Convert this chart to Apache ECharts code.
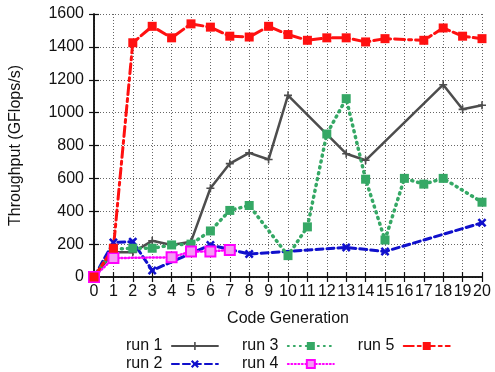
<!DOCTYPE html>
<html>
<head>
<meta charset="utf-8">
<script src="https://cdn.jsdelivr.net/npm/echarts@6/dist/echarts.min.js"></script>
<style>
  html, body { margin: 0; padding: 0; background: #fff; }
  #chart { width: 495px; height: 372px; }
</style>
</head>
<body>
<div id="chart"></div>
<script>
// Throughput per code generation for five runs (null = no measurement)
const generations = [0,1,2,3,4,5,6,7,8,9,10,11,12,13,14,15,16,17,18,19,20];
const run1 = [0,150,150,220,195,215,540,690,755,715,1105,null,null,750,710,null,null,null,1170,1020,1045];
const run2 = [0,210,215,40,null,null,195,null,140,null,null,null,null,180,null,155,null,null,null,null,330];
const run3 = [0,170,175,175,195,200,280,405,435,null,130,305,870,1085,595,225,600,565,600,null,455];
const run4 = [0,115,null,null,120,155,155,165,null,null,null,null,null,null,null,null,null,null,null,null,null];
const run5 = [0,175,1425,1525,1455,1540,1520,1465,1460,1525,1475,1440,1455,1455,1430,1450,null,1440,1515,1465,1450];
const yTicks = [0,200,400,600,800,1000,1200,1400,1600];

const FONT = 'Liberation Sans, Arial, Helvetica, sans-serif';

function pairs(vals) {
  const out = [];
  generations.forEach((g, i) => { if (vals[i] !== null) out.push([g, vals[i]]); });
  return out;
}

const crossPath = 'path://M0,2L2,0L5,3L8,0L10,2L7,5L10,8L8,10L5,7L2,10L0,8L3,5Z';
const plusPath = 'path://M4,0H6V4H10V6H6V10H4V6H0V4H4Z';

const series = [
  { name: 'run 1', vals: run1, color: '#4d4d4d', type: 'solid', width: 2.5, symbol: plusPath, size: 8, fill: '#4d4d4d' },
  { name: 'run 2', vals: run2, color: '#1010cc', type: [7, 4], width: 3, symbol: crossPath, size: 9, fill: '#1010cc' },
  { name: 'run 3', vals: run3, color: '#35a865', type: [1, 5], width: 3.5, symbol: 'rect', size: 9, fill: '#35a865' },
  { name: 'run 4', vals: run4, color: '#ff00ff', type: [1, 2.5], width: 2.5, symbol: 'rect', size: 10, fill: '#f59af5' },
  { name: 'run 5', vals: run5, color: '#ff1010', type: [10, 4, 3, 4], width: 3, symbol: 'rect', size: 9, fill: '#ff1010' }
].map(s => ({
  name: s.name,
  type: 'line',
  data: pairs(s.vals),
  symbol: s.symbol,
  symbolSize: s.size,
  showAllSymbol: true,
  connectNulls: true,
  lineStyle: { color: s.color, width: s.width, type: s.type, cap: 'round' },
  itemStyle: { color: s.fill, borderColor: s.color, borderWidth: s.name === 'run 4' ? 2 : 0 },
  emphasis: { disabled: true },
  animation: false
}));

const legendText = { fontFamily: FONT, fontSize: 16, color: '#111' };
const legendCommon = {
  orient: 'horizontal',
  align: 'right',
  padding: 0,
  itemGap: 23,
  itemWidth: 46,
  itemHeight: 10,
  selectedMode: false,
  textStyle: legendText,
  formatter: n => n + ' '
};

const plainNumber = v => String(v);

const chart = echarts.init(document.getElementById('chart'), null, { renderer: 'canvas' });
chart.setOption({
  backgroundColor: '#ffffff',
  animation: false,
  grid: { left: 94, right: 13, top: 14, bottom: 95, containLabel: false },
  legend: [
    Object.assign({ left: 126, top: 338, data: ['run 1', 'run 3', 'run 5'] }, legendCommon),
    Object.assign({ left: 126, top: 356, data: ['run 2', 'run 4'] }, legendCommon)
  ],
  xAxis: [
    {
      type: 'value', min: 0, max: 20, interval: 1,
      name: 'Code Generation', nameLocation: 'middle', nameGap: 34,
      nameTextStyle: { fontFamily: FONT, fontSize: 16, color: '#111' },
      axisLine: { lineStyle: { color: '#111', width: 1.5 } },
      axisTick: { inside: true, length: 5, lineStyle: { color: '#111', width: 1.2 } },
      axisLabel: { fontFamily: FONT, fontSize: 16, color: '#111', margin: 7, formatter: plainNumber },
      splitLine: { show: true, lineStyle: { color: '#666', width: 1, type: [1, 2] } }
    },
    {
      type: 'value', min: 0, max: 20, interval: 1, position: 'top',
      axisLine: { lineStyle: { color: '#111', width: 1.5 } },
      axisTick: { inside: true, length: 5, lineStyle: { color: '#111', width: 1.2 } },
      axisLabel: { show: false }, splitLine: { show: false }
    }
  ],
  yAxis: [
    {
      type: 'value', min: yTicks[0], max: yTicks[yTicks.length - 1], interval: 200,
      name: 'Throughput (GFlops/s)', nameLocation: 'middle', nameGap: 70,
      nameTextStyle: { fontFamily: FONT, fontSize: 16, color: '#111' },
      axisLine: { show: true, lineStyle: { color: '#111', width: 1.5 } },
      axisTick: { show: true, inside: true, length: 5, lineStyle: { color: '#111', width: 1.2 } },
      axisLabel: { fontFamily: FONT, fontSize: 16, color: '#111', margin: 10, formatter: plainNumber },
      splitLine: { show: true, lineStyle: { color: '#666', width: 1, type: [1, 2] } }
    },
    {
      type: 'value', min: yTicks[0], max: yTicks[yTicks.length - 1], interval: 200, position: 'right',
      axisLine: { show: true, lineStyle: { color: '#111', width: 1.5 } },
      axisTick: { show: true, inside: true, length: 5, lineStyle: { color: '#111', width: 1.2 } },
      axisLabel: { show: false }, splitLine: { show: false }
    }
  ],
  series: series
});
</script>
</body>
</html>
